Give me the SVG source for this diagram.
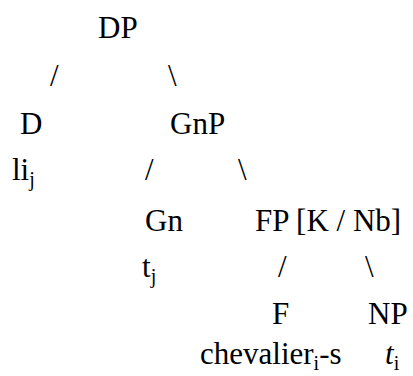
<svg xmlns="http://www.w3.org/2000/svg" width="413" height="376" viewBox="0 0 413 376">
  <style>
    text { font-family: "Liberation Serif", "Times New Roman", serif; font-size: 31px; fill: #000; }
    .sub { font-size: 20px; }
    .it { font-style: italic; }
  </style>
  <rect width="413" height="376" fill="#fff"/>

  <!-- tree nodes -->
  <g id="node-DP"><text x="98" y="38">DP</text></g>
  <g id="node-D">
    <text x="20" y="134">D</text>
    <text x="12" y="180">li<tspan class="sub" dy="6">j</tspan></text>
  </g>
  <g id="node-GnP"><text x="170" y="134">GnP</text></g>
  <g id="node-Gn">
    <text x="145" y="231">Gn</text>
    <text x="142" y="277">t<tspan class="sub" dy="6">j</tspan></text>
  </g>
  <g id="node-FP"><text x="255" y="231">FP [K / Nb]</text></g>
  <g id="node-F">
    <text x="272" y="324">F</text>
    <text x="200" y="364">chevalier<tspan class="sub" dy="6">i</tspan><tspan dy="-6">-s</tspan></text>
  </g>
  <g id="node-NP">
    <text x="368" y="324">NP</text>
    <text x="385" y="364"><tspan class="it">t</tspan><tspan class="sub" dy="6">i</tspan></text>
  </g>

  <!-- branches typed as slash characters -->
  <g id="connectors">
    <text x="50" y="86">/</text>
    <text x="168" y="86">\</text>
    <text x="145" y="180">/</text>
    <text x="238" y="180">\</text>
    <text x="278" y="277">/</text>
    <text x="365" y="277">\</text>
  </g>
</svg>
